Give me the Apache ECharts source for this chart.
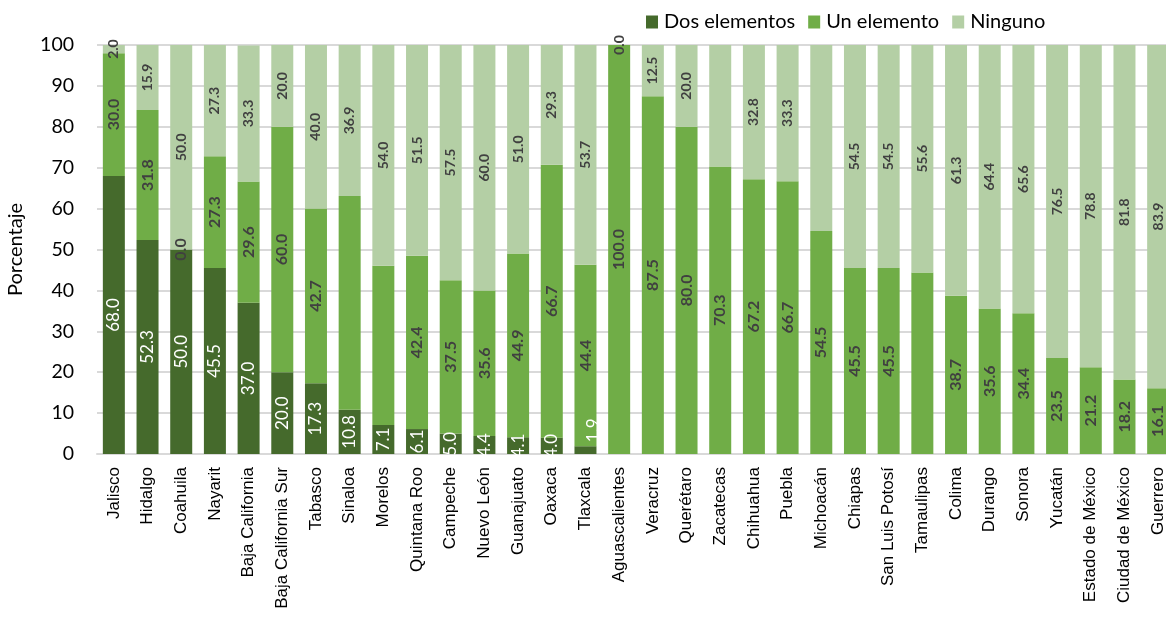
<!DOCTYPE html>
<html>
<head>
<meta charset="utf-8">
<script src="https://cdn.jsdelivr.net/npm/echarts@6/dist/echarts.min.js"></script>
<style>
  html, body { margin: 0; padding: 0; background: #FFFFFF; }
  #chart { width: 1166px; height: 622px; }
</style>
</head>
<body>
<div id="chart"></div>
<script>
var estados = ['Jalisco', 'Hidalgo', 'Coahuila', 'Nayarit', 'Baja California', 'Baja California Sur',
  'Tabasco', 'Sinaloa', 'Morelos', 'Quintana Roo', 'Campeche', 'Nuevo León', 'Guanajuato', 'Oaxaca',
  'Tlaxcala', 'Aguascalientes', 'Veracruz', 'Querétaro', 'Zacatecas', 'Chihuahua', 'Puebla',
  'Michoacán', 'Chiapas', 'San Luis Potosí', 'Tamaulipas', 'Colima', 'Durango', 'Sonora', 'Yucatán',
  'Estado de México', 'Ciudad de México', 'Guerrero'];

var dosElementos = [68.0, 52.3, 50.0, 45.5, 37.0, 20.0, 17.3, 10.8, 7.1, 6.1, 5.0, 4.4, 4.1, 4.0, 1.9,
  0, 0, 0, 0, 0, 0, 0, 0, 0, 0, 0, 0, 0, 0, 0, 0, 0];
var unElemento = [30.0, 31.8, 0.0, 27.3, 29.6, 60.0, 42.7, 52.3, 38.9, 42.4, 37.5, 35.6, 44.9, 66.7, 44.4,
  100.0, 87.5, 80.0, 70.3, 67.2, 66.7, 54.5, 45.5, 45.5, 44.4, 38.7, 35.6, 34.4, 23.5, 21.2, 18.2, 16.1];
var ninguno = [2.0, 15.9, 50.0, 27.3, 33.3, 20.0, 40.0, 36.9, 54.0, 51.5, 57.5, 60.0, 51.0, 29.3, 53.7,
  0.0, 12.5, 20.0, 29.7, 32.8, 33.3, 45.5, 54.5, 54.5, 55.6, 61.3, 64.4, 65.6, 76.5, 78.8, 81.8, 83.9];

// etiquetas que no aparecen en el original: [serie, estado]
var sinEtiqueta = [[1, 'Sinaloa'], [1, 'Morelos'], [1, 'Tamaulipas'], [2, 'Zacatecas'], [2, 'Michoacán']];

var chart = echarts.init(document.getElementById('chart'));

function etiqueta(serie) {
  return function (p) {
    if (serie === 0 && p.dataIndex >= 15) return '';
    for (var i = 0; i < sinEtiqueta.length; i++) {
      if (sinEtiqueta[i][0] === serie && sinEtiqueta[i][1] === p.name) return '';
    }
    return p.value.toFixed(1);
  };
}

var option = {
  animation: false,
  textStyle: { fontFamily: 'Liberation Sans' },
  legend: {
    left: 641,
    top: 7,
    itemWidth: 12,
    itemHeight: 13,
    itemGap: 13,
    icon: 'rect',
    textStyle: { fontFamily: 'Lato', fontSize: 20, color: '#000000', padding: [0, 0, 0, 1] }
  },
  grid: { left: 97, width: 1078, top: 45, bottom: 168, outerBoundsMode: 'none', containLabel: false },
  xAxis: {
    type: 'category',
    data: estados,
    axisLine: { lineStyle: { color: '#d9d9d9', width: 2 } },
    axisTick: { show: false },
    axisLabel: { rotate: 90, interval: 0, fontSize: 17, color: '#000000', margin: 13 }
  },
  yAxis: {
    type: 'value',
    min: 0,
    max: 100,
    interval: 10,
    name: 'Porcentaje',
    nameLocation: 'middle',
    nameGap: 71,
    nameTextStyle: { fontFamily: 'Lato', fontSize: 20, color: '#000000' },
    axisLabel: { fontFamily: 'Lato', fontSize: 19.5, color: '#000000', margin: 23 },
    splitLine: { lineStyle: { color: '#d9d9d9', width: 2 } }
  },
  series: [
    {
      name: 'Dos elementos',
      type: 'bar',
      stack: 'total',
      barWidth: 22,
      itemStyle: { color: '#456A2C' },
      label: { show: true, position: 'inside', rotate: 90, fontFamily: 'Lato', fontSize: 17,
        color: '#FFFFFF', formatter: etiqueta(0) },
      labelLayout: function (p) {
        var r = p.labelRect;
        if (r.y + r.height > 460) return { y: 454 - r.height / 2 };
        return {};
      },
      data: dosElementos
    },
    {
      name: 'Un elemento',
      type: 'bar',
      stack: 'total',
      barWidth: 22,
      itemStyle: { color: '#70AD47' },
      label: { show: true, position: 'inside', rotate: 90, fontFamily: 'Lato', fontSize: 16,
        fontWeight: 'bold', color: '#404040', formatter: etiqueta(1) },
      data: unElemento
    },
    {
      name: 'Ninguno',
      type: 'bar',
      stack: 'total',
      barWidth: 22,
      itemStyle: { color: '#B4CFA5' },
      label: { show: true, position: 'inside', rotate: 90, fontFamily: 'Lato', fontSize: 14,
        fontWeight: 'bold', color: '#404040', formatter: etiqueta(2) },
      data: ninguno
    }
  ]
};

chart.setOption(option);
</script>
</body>
</html>
